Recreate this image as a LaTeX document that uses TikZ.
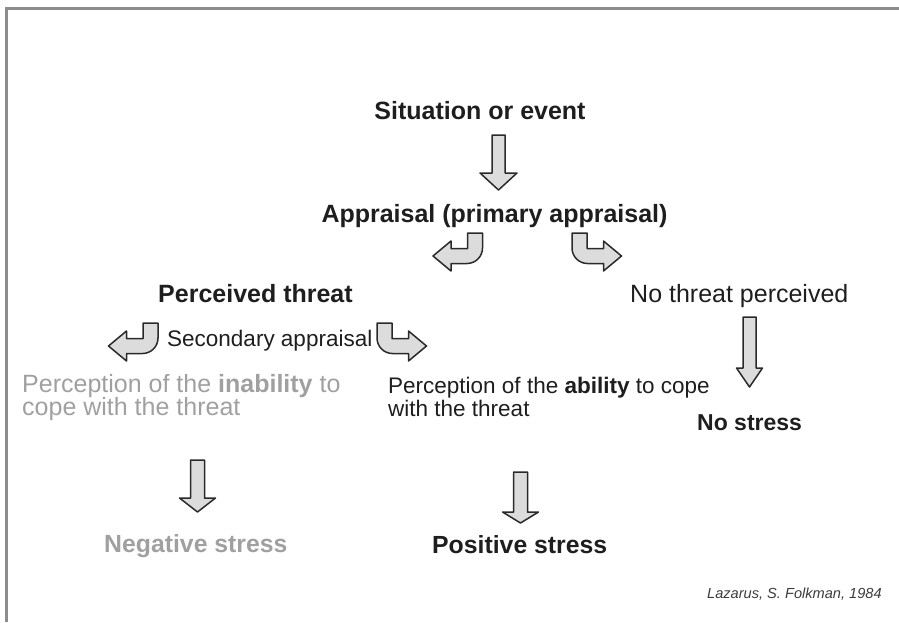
\documentclass[tikz,border=0pt]{standalone}
\usepackage{fontspec}
\setmainfont{Liberation Sans}
\definecolor{txt}{HTML}{1E1E1E}
\definecolor{pale}{HTML}{A0A0A0}
\definecolor{arrfill}{HTML}{DCDCDC}
\definecolor{arrline}{HTML}{2A2A2A}
\definecolor{framec}{HTML}{8C8C8C}
\definecolor{cite}{HTML}{3C3C3C}
\newcommand\dnarr[6]{% x, ytop, ybase, ytip, shaft half, head half
  \draw[blk] (#1-#5,#2) -- (#1+#5,#2) -- (#1+#5,#3) -- (#1+#6,#3) -- (#1,#4)
    -- (#1-#6,#3) -- (#1-#5,#3) -- cycle;}
\begin{document}
\begin{tikzpicture}[x=1pt,y=-1pt,
  lbl/.style={inner sep=0pt, anchor=base west, text=txt},
  hd/.style={lbl, font=\fontsize{25}{30}\selectfont\bfseries},
  reg/.style={lbl, font=\fontsize{25}{29}\selectfont},
  small/.style={lbl, font=\fontsize{22.5}{27}\selectfont},
  blk/.style={draw=arrline, fill=arrfill, line width=1.5pt, line join=round},
  framestyle/.style={draw=framec, line width=2.5pt},
  bendl/.pic={\draw[blk] (-7.5,0) -- (7.5,0) -- (7.5,15)
     arc[start angle=0,end angle=90,radius=15.5] -- (-24,30.5) -- (-24,38)
     -- (-42,23) -- (-24,8) -- (-24,15.5) -- (-7.5,15.5) -- cycle;}]
\useasboundingbox (0,0) rectangle (899,622);
\draw[framestyle] (5,8.5) -- (899,8.5);
\draw[framestyle] (6.5,8.5) -- (6.5,622);

% texts
\node[hd, anchor=base] (sit) at (480,119) {Situation or event};
\node[hd, anchor=base] (app) at (494.5,222) {Appraisal (primary appraisal)};
\node[hd] (pt) at (158,302) {Perceived threat};
\node[lbl, font=\fontsize{25}{30}\selectfont] (nt) at (630,302) {No threat perceived};
\node[small] (sec) at (167,346) {Secondary appraisal};
\node[reg, text=pale] (in1) at (22,392) {Perception of the \textbf{inability} to};
\node[reg, text=pale] (in2) at (22,415) {cope with the threat};
\node[small] (ab1) at (388,393) {Perception of the \textbf{ability} to cope};
\node[small] (ab2) at (388,416) {with the threat};
\node[hd, font=\fontsize{23}{28}\selectfont\bfseries] (ns) at (697,430) {No stress};
\node[hd, font=\fontsize{24.8}{28}\selectfont\bfseries, text=pale] (neg) at (104,552) {Negative stress};
\node[hd, font=\fontsize{24.8}{28}\selectfont\bfseries] (pos) at (432,553) {Positive stress};
\node[lbl, text=cite, font=\fontsize{14.6}{17}\selectfont\itshape] (ref) at (707,598) {Lazarus, S. Folkman, 1984};

% arrows
\dnarr{498.5}{135}{173}{190}{6.5}{18.5}
\dnarr{749.5}{317}{368}{387}{6.5}{13}
\dnarr{197.5}{460}{498}{512}{7}{18}
\dnarr{520.5}{472}{512}{523}{7}{18}
\pic at (475,233) {bendl};
\pic[xscale=-1] at (579.5,233) {bendl};
\pic at (150.5,323) {bendl};
\pic[xscale=-1] at (384.5,323) {bendl};
\end{tikzpicture}
\end{document}
